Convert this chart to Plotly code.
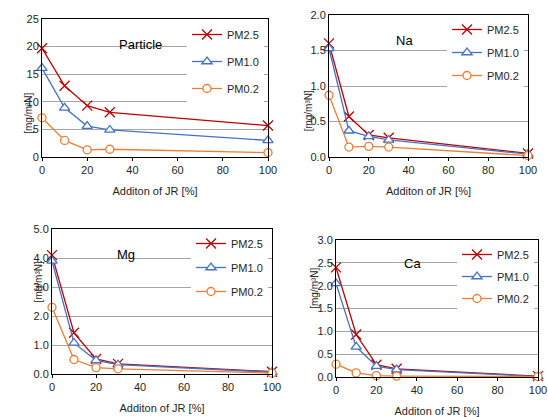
import plotly.graph_objects as go

x_jr = [0, 10, 20, 30, 100]
series_names = ["PM2.5", "PM1.0", "PM0.2"]

particle_pm25 = [19.7, 12.9, 9.3, 8.1, 5.7]
particle_pm10 = [16.1, 8.9, 5.6, 4.9, 3.0]
particle_pm02 = [7.1, 3.0, 1.3, 1.4, 0.8]

na_pm25 = [1.60, 0.57, 0.31, 0.27, 0.05]
na_pm10 = [1.53, 0.37, 0.29, 0.24, 0.04]
na_pm02 = [0.87, 0.14, 0.15, 0.14, 0.02]

mg_pm25 = [4.10, 1.42, 0.52, 0.35, 0.08]
mg_pm10 = [3.90, 1.07, 0.47, 0.32, 0.06]
mg_pm02 = [2.30, 0.50, 0.22, 0.18, 0.03]

ca_pm25 = [2.40, 0.93, 0.27, 0.18, 0.02]
ca_pm10 = [2.05, 0.66, 0.24, 0.16, 0.01]
ca_pm02 = [0.28, 0.09, 0.03, 0.02, 0.01]

panel_titles = ["Particle", "Na", "Mg", "Ca"]
y_max = [25, 2.0, 5.0, 3.0]
y_dtick = [5, 0.5, 1.0, 0.5]
y_fmt = ["d", ".1f", ".1f", ".1f"]
x_title = "Additon of JR [%]"
y_title = "[mg/m³N]"

data = [
    [particle_pm25, particle_pm10, particle_pm02],
    [na_pm25, na_pm10, na_pm02],
    [mg_pm25, mg_pm10, mg_pm02],
    [ca_pm25, ca_pm10, ca_pm02],
]

W, H = 548, 417
# plot areas in pixels: left, right, top, bottom
boxes = [
    (42, 268, 19, 157),
    (329, 528, 15, 157),
    (52, 272, 229, 374),
    (336, 538, 240, 377),
]
title_pos = [(0.434, 0.884), (0.327, 0.887), (0.336, 0.89), (0.327, 0.898)]
leg_gap = [8, 4, 5, 3]
leg_dy = [1, 0, 0, 0]

colors = ["#C00000", "#4472C4", "#ED7D31"]
symbols = ["x-thin", "triangle-up", "circle"]
sizes = [10, 9, 8]

FONT = "Liberation Sans, Arial, sans-serif"
fig = go.Figure()

layout = dict(
    width=W, height=H, margin=dict(l=0, r=0, t=0, b=0, autoexpand=False),
    paper_bgcolor="white", plot_bgcolor="white",
    font=dict(family=FONT, size=11, color="#262626"),
    annotations=[],
)

for i in range(4):
    l, r, t, b = boxes[i]
    sfx = "" if i == 0 else str(i + 1)
    legname = "legend" if i == 0 else "legend" + str(i + 1)
    for j in range(3):
        fig.add_trace(go.Scatter(
            x=x_jr, y=data[i][j], name=series_names[j], mode="lines+markers",
            xaxis="x" + sfx, yaxis="y" + sfx, legend=legname,
            legendgroup=f"g{i}{j}",
            line=dict(color=colors[j], width=1.3),
            marker=dict(symbol=symbols[j], size=sizes[j],
                        color="white" if j > 0 else colors[j],
                        line=dict(color=colors[j], width=1.3)),
            cliponaxis=False,
        ))
    layout["xaxis" + sfx] = dict(
        domain=[l / W, r / W], anchor="y" + sfx, range=[0, 100], dtick=20,
        showline=True, linecolor="black", linewidth=1, mirror=True,
        showgrid=False, zeroline=False, ticks="outside", ticklen=3,
        tickcolor="black", tickfont=dict(size=11, family=FONT),
        title=dict(text=x_title, font=dict(size=11, family=FONT), standoff=12),
        automargin=False,
    )
    layout["yaxis" + sfx] = dict(
        domain=[1 - b / H, 1 - t / H], anchor="x" + sfx, range=[0, y_max[i]],
        dtick=y_dtick[i], tickformat=y_fmt[i],
        showline=True, linecolor="black", linewidth=1, mirror=True,
        showgrid=True, gridcolor="#A6A6A6", gridwidth=1, zeroline=False,
        ticks="", tickfont=dict(size=11, family=FONT), automargin=False,
    )
    layout[legname] = dict(
        x=(r - 4) / W, y=1 - (t + leg_dy[i]) / H, xanchor="right", yanchor="top",
        bgcolor="white", font=dict(size=11, family=FONT),
        tracegroupgap=leg_gap[i], itemwidth=30,
    )
    layout["annotations"].append(dict(
        text=panel_titles[i], xref="x" + sfx + " domain", yref="y" + sfx + " domain",
        x=title_pos[i][0], y=title_pos[i][1], showarrow=False,
        font=dict(size=13, family=FONT, color="black"),
    ))
    layout["annotations"].append(dict(
        text=y_title, xref="paper", yref="paper",
        x=(l - 21) / W, y=1 - (t + (b - t) * 0.52) / H, showarrow=False,
        textangle=-90, font=dict(size=10, family=FONT, color="#262626"),
    ))

fig.update_layout(**layout)
fig.write_html(
    "out.html",
    config={"displayModeBar": False},
    post_script="document.body.style.margin='0';document.body.style.overflow='hidden';",
)
